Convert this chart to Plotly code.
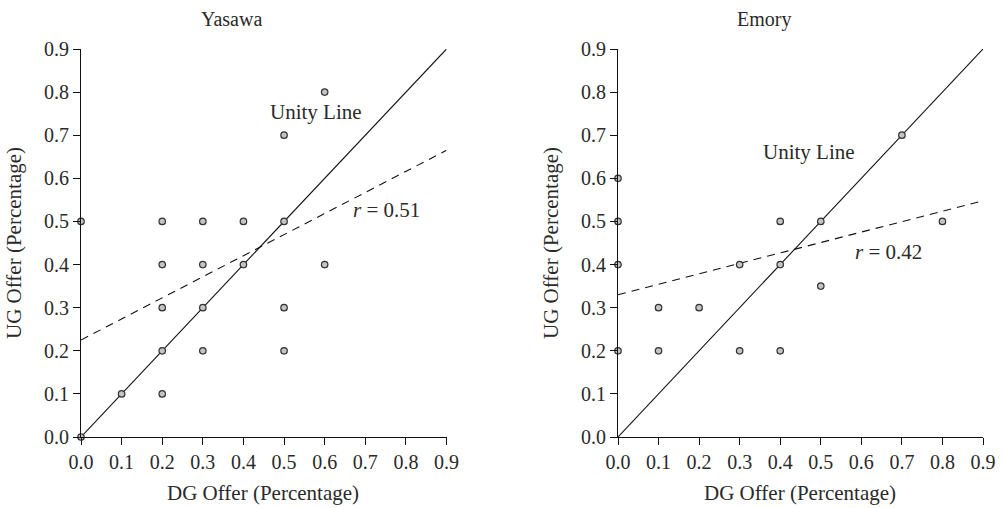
import plotly.graph_objects as go

# ---- data ----
yasawa_dg = [0.0, 0.0, 0.1, 0.2, 0.2, 0.2, 0.2, 0.2, 0.3, 0.3, 0.3, 0.3, 0.4, 0.4, 0.5, 0.5, 0.5, 0.5, 0.6, 0.6]
yasawa_ug = [0.0, 0.5, 0.1, 0.1, 0.2, 0.3, 0.4, 0.5, 0.2, 0.3, 0.4, 0.5, 0.4, 0.5, 0.2, 0.3, 0.5, 0.7, 0.4, 0.8]
yasawa_fit_x = [0.0, 0.9]
yasawa_fit_y = [0.225, 0.665]
yasawa_r = "0.51"

emory_dg = [0.0, 0.0, 0.0, 0.0, 0.1, 0.1, 0.2, 0.3, 0.3, 0.4, 0.4, 0.4, 0.5, 0.5, 0.7, 0.8]
emory_ug = [0.2, 0.4, 0.5, 0.6, 0.2, 0.3, 0.3, 0.2, 0.4, 0.2, 0.4, 0.5, 0.35, 0.5, 0.7, 0.5]
emory_fit_x = [0.0, 0.9]
emory_fit_y = [0.33, 0.548]
emory_r = "0.42"

unity = [0.0, 0.9]
ticks = [0.0, 0.1, 0.2, 0.3, 0.4, 0.5, 0.6, 0.7, 0.8, 0.9]
tick_text = ["0.0", "0.1", "0.2", "0.3", "0.4", "0.5", "0.6", "0.7", "0.8", "0.9"]

FONT = "Liberation Serif"
TXT = "#2a2a2a"
W, H = 1003, 508

fig = go.Figure()

panels = [
    ("x", "y", yasawa_dg, yasawa_ug, yasawa_fit_x, yasawa_fit_y),
    ("x2", "y2", emory_dg, emory_ug, emory_fit_x, emory_fit_y),
]
for xa, ya, dg, ug, fx, fy in panels:
    fig.add_trace(go.Scatter(x=unity, y=unity, mode="lines", xaxis=xa, yaxis=ya,
                             line=dict(color="#111", width=1.1), showlegend=False,
                             cliponaxis=False))
    fig.add_trace(go.Scatter(x=fx, y=fy, mode="lines", xaxis=xa, yaxis=ya,
                             line=dict(color="#111", width=1.1, dash="8px,6px"),
                             showlegend=False, cliponaxis=False))
    fig.add_trace(go.Scatter(x=dg, y=ug, mode="markers", xaxis=xa, yaxis=ya,
                             marker=dict(size=6.5, color="#c4c4c4",
                                         line=dict(color="#333", width=1.2)),
                             showlegend=False, cliponaxis=False))

def px_x(p):
    return p / W

def px_y(p):
    return 1 - p / H

axis_common = dict(
    range=[0, 0.9], tickmode="array", tickvals=ticks, ticktext=tick_text,
    showline=True, linecolor="#111", linewidth=1.2, ticks="outside",
    ticklen=7, tickcolor="#111", tickwidth=1.2, showgrid=False, zeroline=False,
    tickfont=dict(family=FONT, size=20, color=TXT), fixedrange=True,
    automargin=False,
)

ydom = [px_y(437), px_y(49)]
fig.update_layout(
    width=W, height=H,
    margin=dict(l=0, r=0, t=0, b=0, autoexpand=False),
    plot_bgcolor="white", paper_bgcolor="white",
    xaxis=dict(domain=[px_x(81), px_x(446.5)], anchor="y", **axis_common),
    yaxis=dict(domain=ydom, anchor="x", **axis_common),
    xaxis2=dict(domain=[px_x(618), px_x(983)], anchor="y2", **axis_common),
    yaxis2=dict(domain=ydom, anchor="x2", **axis_common),
)

ann = []
def text(x, y, s, size=20, xref="paper", yref="paper", angle=0):
    ann.append(dict(x=x, y=y, xref=xref, yref=yref, text=s, showarrow=False,
                    textangle=angle, xanchor="center", yanchor="middle",
                    font=dict(family=FONT, size=size, color=TXT)))

# panel titles
text(px_x(231), px_y(19), "Yasawa", size=20)
text(px_x(764), px_y(19), "Emory", size=20)
# axis titles
text(px_x(263), px_y(493), "DG Offer (Percentage)", size=21)
text(px_x(800), px_y(493), "DG Offer (Percentage)", size=21)
text(px_x(14), px_y(243), "UG Offer (Percentage)", size=21, angle=-90)
text(px_x(551), px_y(243), "UG Offer (Percentage)", size=21, angle=-90)
# in-plot labels
text(0.578, 0.755, "Unity Line", size=21, xref="x", yref="y")
text(0.753, 0.527, "<i>r</i> = " + yasawa_r, size=21, xref="x", yref="y")
text(0.472, 0.661, "Unity Line", size=21, xref="x2", yref="y2")
text(0.668, 0.43, "<i>r</i> = " + emory_r, size=21, xref="x2", yref="y2")

fig.update_layout(annotations=ann)
fig.write_html("out.html")
